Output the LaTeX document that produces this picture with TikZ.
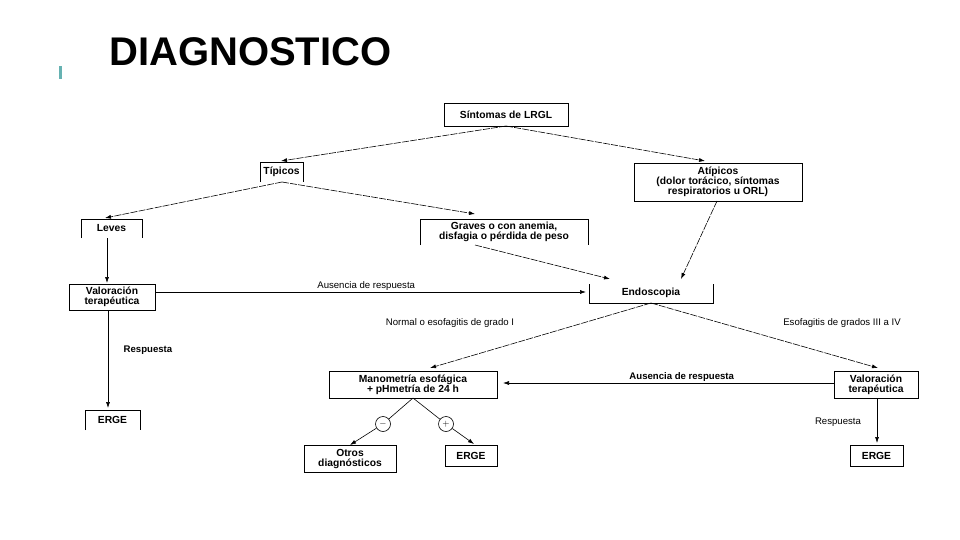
\documentclass[tikz,border=0pt]{standalone}
\usepackage{fontspec}
\setmainfont{Liberation Sans}
\usetikzlibrary{arrows.meta}
\begin{document}
\begin{tikzpicture}[x=1pt,y=-1pt,
  txt/.style={font=\fontsize{10.3}{10}\selectfont\bfseries, align=center, inner sep=0pt},
  lbl/.style={font=\fontsize{9.6}{9.6}\selectfont, inner sep=1pt},
  arr/.style={-{Latex[length=6pt,width=4pt]}, line width=0.6pt},
  darr/.style={arr, dash pattern=on 7pt off 1.2pt}]
\useasboundingbox (0,0) rectangle (960,540);
\fill[white] (0,0) rectangle (960,540);
\fill[teal!60] (59,66) rectangle (62,79);
\node[font=\fontsize{40}{40}\selectfont\bfseries, anchor=west, inner sep=0pt] (title) at (109,52) {DIAGNOSTICO};
% boxes
\draw[line width=0.6pt] (444,103) rectangle (568,126); \node[txt] (sint) at (506,114.5) {Síntomas de LRGL};
\draw[line width=0.6pt] (260,182) -- (260,162) -- (303,162) -- (303,182); \node[txt] (tip) at (281.5,172) {Típicos};
\draw[line width=0.6pt] (634,163) rectangle (802,201); \node[txt] (atip) at (718,182) {Atípicos\\(dolor torácico, síntomas\\respiratorios u ORL)};
\draw[line width=0.6pt] (81,238) -- (81,219) -- (142,219) -- (142,238); \node[txt] (lev) at (111.5,228.5) {Leves};
\draw[line width=0.6pt] (420,245) -- (420,219) -- (588,219) -- (588,245); \node[txt] (grav) at (504,232) {Graves o con anemia,\\disfagia o pérdida de peso};
\draw[line width=0.6pt] (69,310) rectangle (155,284); \node[txt] (valL) at (112,297) {Valoración\\terapéutica};
\draw[line width=0.6pt] (589,284) -- (589,303) -- (713,303) -- (713,284); \node[txt] (endo) at (651,293) {Endoscopia};
\draw[line width=0.6pt] (329,371) rectangle (497,398); \node[txt] (mano) at (413,384.5) {Manometría esofágica\\+ pHmetría de 24 h};
\draw[line width=0.6pt] (834,371) rectangle (918,398); \node[txt] (valR) at (876,384.5) {Valoración\\terapéutica};
\draw[line width=0.6pt] (85,430) -- (85,410) -- (140,410) -- (140,430); \node[txt] (ergeL) at (112.5,419.5) {ERGE};
\draw[line width=0.6pt] (304,445) rectangle (396,472); \node[txt] (otros) at (350,458.5) {Otros\\diagnósticos};
\draw[line width=0.6pt] (445,445) rectangle (497,466); \node[txt] (ergeM) at (471,455.5) {ERGE};
\draw[line width=0.6pt] (850,445) rectangle (903,466); \node[txt] (ergeR) at (876.5,455.5) {ERGE};
\node[draw, circle, minimum size=15pt, inner sep=0pt, line width=0.6pt, font=\small] (neg) at (383,424) {$-$};
\node[draw, circle, minimum size=15pt, inner sep=0pt, line width=0.6pt, font=\small] (pos) at (446,424) {$+$};
% coordinates
\coordinate (sintB) at (506,126);
\coordinate (tipT) at (281,161);
\coordinate (atipT) at (705,161);
\coordinate (tipB) at (282,182);
\coordinate (levT) at (105,218);
\coordinate (gravT) at (475,214);
\coordinate (levB) at (107,238);
\coordinate (valLT) at (107,283);
\coordinate (valLR) at (155,292);
\coordinate (endoL) at (586,292);
\coordinate (gravB) at (475,245);
\coordinate (endoT1) at (610,279);
\coordinate (atipB) at (717,201);
\coordinate (endoT2) at (681,279);
\coordinate (endoB) at (651,303);
\coordinate (manoT) at (430,368);
\coordinate (valRT) at (878,368);
\coordinate (valRL) at (834,383);
\coordinate (manoR) at (503,383);
\coordinate (valLB) at (108,310);
\coordinate (ergeLT) at (108,408);
\coordinate (valRB) at (877,398);
\coordinate (ergeRT) at (877,443);
\coordinate (manoB) at (413,398);
\coordinate (otrosT) at (350,445);
\coordinate (ergeMT) at (474,444);
% arrows
\draw[darr] (sintB) -- (tipT);
\draw[darr] (sintB) -- (atipT);
\draw[darr] (tipB) -- (levT);
\draw[darr] (tipB) -- (gravT);
\draw[arr] (levB) -- (valLT);
\draw[arr] (valLR) -- node[lbl, above, pos=0.49] {Ausencia de respuesta} (endoL);
\draw[darr] (gravB) -- (endoT1);
\draw[darr] (atipB) -- (endoT2);
\draw[darr] (endoB) -- (manoT);
\draw[darr] (endoB) -- (valRT);
\node[lbl] (l1) at (450,323) {Normal o esofagitis de grado I};
\node[lbl] (l2) at (842,323) {Esofagitis de grados III a IV};
\draw[arr] (valRL) -- node[lbl, above, pos=0.46, font=\fontsize{9.6}{9.6}\selectfont\bfseries] {Ausencia de respuesta} (manoR);
\draw[arr] (valLB) -- (ergeLT);
\node[lbl, font=\fontsize{9.6}{9.6}\selectfont\bfseries] (r1) at (148,350) {Respuesta};
\draw[arr] (valRB) -- (ergeRT);
\node[lbl] (r2) at (838,422) {Respuesta};
\draw[line width=0.6pt] (manoB) -- (neg);
\draw[arr] (neg) -- (otrosT);
\draw[line width=0.6pt] (manoB) -- (pos);
\draw[arr] (pos) -- (ergeMT);
\end{tikzpicture}
\end{document}
